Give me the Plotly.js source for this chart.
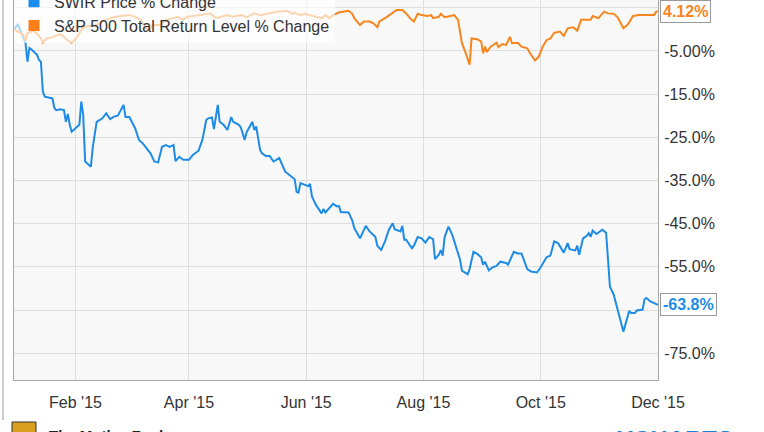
<!DOCTYPE html>
<html><head><meta charset="utf-8">
<script src="https://cdn.plot.ly/plotly-3.0.1.min.js"></script>
<style>html,body{margin:0;padding:0;background:#fff;}#chart{width:764px;height:432px;}</style>
</head><body><div id="chart"></div>
<script>
const swirName = 'SWIR Price % Change';
const spxName = 'S&P 500 Total Return Level % Change';

const swirDates = ['2014-12-31','2015-01-02','2015-01-06','2015-01-07','2015-01-08','2015-01-09','2015-01-12','2015-01-13','2015-01-14','2015-01-15','2015-01-16','2015-01-20','2015-01-21','2015-01-22','2015-01-24','2015-01-26','2015-01-27','2015-01-28','2015-01-29','2015-01-30',
'2015-02-02','2015-02-03','2015-02-04','2015-02-05','2015-02-06','2015-02-09','2015-02-10','2015-02-12','2015-02-15','2015-02-17','2015-02-19','2015-02-21','2015-02-23','2015-02-26','2015-02-27',
'2015-03-01','2015-03-04','2015-03-06','2015-03-08','2015-03-10','2015-03-12','2015-03-14','2015-03-16','2015-03-18','2015-03-20','2015-03-22','2015-03-24','2015-03-25','2015-03-27','2015-03-29',
'2015-04-01','2015-04-03','2015-04-06','2015-04-08','2015-04-10','2015-04-11','2015-04-13','2015-04-14','2015-04-16','2015-04-17','2015-04-19','2015-04-21','2015-04-23','2015-04-24','2015-04-27','2015-04-28','2015-04-30',
'2015-05-01','2015-05-04','2015-05-05','2015-05-06','2015-05-08','2015-05-09','2015-05-11','2015-05-13','2015-05-15','2015-05-17','2015-05-18','2015-05-21','2015-05-24','2015-05-26','2015-05-27','2015-05-28','2015-05-29','2015-05-31',
'2015-06-02','2015-06-03','2015-06-04','2015-06-06','2015-06-09','2015-06-10','2015-06-11','2015-06-15','2015-06-17','2015-06-18','2015-06-19','2015-06-23','2015-06-25','2015-06-26','2015-06-29',
'2015-07-02','2015-07-04','2015-07-07','2015-07-08','2015-07-10','2015-07-12','2015-07-14','2015-07-16','2015-07-17','2015-07-20','2015-07-21','2015-07-22','2015-07-23','2015-07-26','2015-07-27','2015-07-28','2015-07-29','2015-07-31',
'2015-08-02','2015-08-04','2015-08-06','2015-08-07','2015-08-09','2015-08-10','2015-08-11','2015-08-12','2015-08-14','2015-08-16','2015-08-18','2015-08-20','2015-08-21','2015-08-24','2015-08-25','2015-08-27','2015-08-29','2015-08-31',
'2015-09-01','2015-09-02','2015-09-04','2015-09-06','2015-09-08','2015-09-10','2015-09-13','2015-09-14','2015-09-17','2015-09-19','2015-09-21','2015-09-24','2015-09-26','2015-09-29',
'2015-10-01','2015-10-04','2015-10-06','2015-10-08','2015-10-10','2015-10-13','2015-10-15','2015-10-16','2015-10-19','2015-10-20','2015-10-21','2015-10-23','2015-10-25','2015-10-26','2015-10-27','2015-10-28','2015-10-30',
'2015-11-02','2015-11-04','2015-11-06','2015-11-08','2015-11-10','2015-11-13','2015-11-16','2015-11-17','2015-11-19','2015-11-20','2015-11-23','2015-11-24','2015-11-25','2015-11-27','2015-11-29','2015-12-01'];
const swirPct = [0,1.2,-3.2,-7.5,-4.3,-4.6,-5.9,-7.1,-7.5,-14.4,-15.6,-16,-18.2,-18.7,-18.5,-18.7,-21.4,-19.6,-22.1,-23.7,
-22.5,-22.1,-16.7,-19.8,-30.6,-31.8,-27.2,-21.4,-20.6,-19.4,-20.8,-20.2,-20,-17.5,-20.3,
-20.3,-22.9,-25.6,-26.4,-27.5,-28.7,-30.6,-30.8,-27.2,-26.8,-27.2,-26.8,-30.5,-29.5,-30.2,
-30.2,-29.1,-28.1,-25.6,-21,-20.6,-20.4,-23.1,-17.5,-21.4,-22.1,-23.3,-20.3,-21.4,-22.1,-22.7,-25.6,
-23.8,-21.4,-23.3,-22.5,-27.9,-28.7,-29.3,-29.3,-30.6,-30,-29.8,-32.9,-34.1,-34.7,-37.6,-37.8,-35.6,-36,
-36.3,-35.8,-38.7,-40.6,-42.6,-41.6,-42.4,-40.4,-41,-40.9,-42.3,-42.4,-44.3,-46,-48.4,
-45.5,-46.8,-48.1,-50.1,-51.1,-49.1,-46.4,-44.9,-46.3,-46.8,-45.5,-48.7,-48.7,-50.7,-50.1,-49.1,-48.1,-48.4,
-49.4,-48.1,-48.6,-53.2,-52.2,-51.1,-52.4,-48.1,-45.7,-47.6,-50.4,-53.3,-55.9,-56.7,-55.5,-51.5,-52,-52.8,
-54.5,-53.8,-55.8,-55.1,-54.8,-53.8,-54.1,-54.5,-51.5,-51.9,-51.9,-55.5,-56.1,-56.3,
-55.1,-52.8,-52.4,-49.1,-49.5,-51.7,-49.5,-50.9,-51.2,-50.1,-52.2,-48.4,-47.8,-47.2,-48,-46.6,-47.4,
-46.4,-47.1,-59.6,-61.5,-64.9,-70,-65.2,-65.7,-65.7,-65.1,-64.9,-62.5,-62.2,-63,-63.4,-63.8];

const spxDates = ['2014-12-31','2015-01-03','2015-01-05','2015-01-06','2015-01-07','2015-01-10','2015-01-12','2015-01-14','2015-01-15','2015-01-17','2015-01-20','2015-01-24','2015-01-26','2015-01-28','2015-01-30',
'2015-02-01','2015-02-03','2015-02-05','2015-02-08','2015-02-12','2015-02-15','2015-02-19','2015-02-22','2015-02-26',
'2015-03-01','2015-03-04','2015-03-07','2015-03-08','2015-03-10','2015-03-12','2015-03-13','2015-03-17','2015-03-20','2015-03-24','2015-03-26','2015-03-29','2015-03-31',
'2015-04-07','2015-04-12','2015-04-15','2015-04-21','2015-04-24','2015-04-28',
'2015-05-01','2015-05-05','2015-05-08','2015-05-11','2015-05-17','2015-05-22','2015-05-25','2015-05-26','2015-05-29','2015-05-31',
'2015-06-03','2015-06-07','2015-06-09','2015-06-11','2015-06-13','2015-06-15','2015-06-18','2015-06-20','2015-06-23','2015-06-25','2015-06-26','2015-06-29',
'2015-07-01','2015-07-04','2015-07-06','2015-07-08','2015-07-09','2015-07-13','2015-07-15','2015-07-18','2015-07-21','2015-07-23','2015-07-25','2015-07-27','2015-07-29','2015-07-31',
'2015-08-03','2015-08-05','2015-08-06','2015-08-09','2015-08-10','2015-08-12','2015-08-15','2015-08-17','2015-08-19','2015-08-21','2015-08-23','2015-08-25','2015-08-26','2015-08-29','2015-08-31',
'2015-09-01','2015-09-02','2015-09-03','2015-09-05','2015-09-08','2015-09-09','2015-09-11','2015-09-13','2015-09-15','2015-09-16','2015-09-19','2015-09-21','2015-09-24','2015-09-25','2015-09-28','2015-09-30',
'2015-10-02','2015-10-04','2015-10-06','2015-10-08','2015-10-11','2015-10-13','2015-10-15','2015-10-18','2015-10-20','2015-10-22','2015-10-25','2015-10-27','2015-10-28','2015-10-31',
'2015-11-03','2015-11-05','2015-11-08','2015-11-10','2015-11-13','2015-11-15','2015-11-16','2015-11-18','2015-11-21','2015-11-25','2015-11-29','2015-11-30','2015-12-01'];
const spxPct = [0,-0.9,-1.3,-2.5,-0.9,-0.3,-1.0,-2.1,-3.1,-2.1,-1.8,-1.1,-1.7,-2.6,-3.1,
-2.3,-0.9,0.5,0.8,1.0,1.8,2.6,2.9,3.1,
3.3,2.9,2.2,1.4,-0.1,0.3,1.0,1.0,2.2,2.6,2.9,2.2,2.9,
3.3,3.7,2.6,3.3,2.9,3.3,
2.8,3.7,3.3,3.6,4.1,4.3,3.6,3.9,3.3,3.6,
3.3,2.9,2.6,3.3,2.6,3.3,3.9,4.1,4.3,3.6,2.6,1.0,
1.8,1.8,1.4,0.5,1.8,2.9,3.6,4.5,4.5,3.7,2.6,1.8,3.6,3.3,
3.1,3.3,2.6,2.9,3.6,2.8,3.1,3.3,2.2,-3.2,-5.5,-8.2,-2.1,-2.3,-2.8,
-5.5,-4.0,-5.2,-4.0,-3.1,-4.1,-3.4,-3.6,-1.7,-3.2,-3.1,-4.0,-4.4,-5.2,-7.2,-6.3,
-4.0,-2.5,-2.1,-0.8,-0.5,-1.5,0.25,0.5,-0.3,2.2,2.3,2.2,3.1,2.6,
4.1,3.7,3.6,2.8,0.25,1.0,1.6,3.1,3.3,3.3,3.3,4.1,4.12];

const xTickVals = ['2015-02-01','2015-04-01','2015-06-01','2015-08-01','2015-10-01','2015-12-01'];
const xTickText = ["Feb '15","Apr '15","Jun '15","Aug '15","Oct '15","Dec '15"];
// 5% and -65% labels sit behind the end-value boxes in the reference, so only their gridlines show
const yTickVals = [5,-5,-15,-25,-35,-45,-55,-65,-75];
const yTickText = ['','-5.00%','-15.0%','-25.0%','-35.0%','-45.0%','-55.0%','','-75.0%'];

const blue = '#1e8ce6';
const orange = '#f7861f';
const FONT = 'Liberation Sans, Arial, sans-serif';

const traces = [
  {x: swirDates, y: swirPct, type:'scatter', mode:'lines', name: swirName, line:{color:blue, width:2}, showlegend:false, hoverinfo:'skip'},
  {x: spxDates, y: spxPct, type:'scatter', mode:'lines', name: spxName, line:{color:orange, width:2}, showlegend:false, hoverinfo:'skip'},
  {x: [null], y: [null], type:'scatter', mode:'markers', name: swirName, marker:{symbol:'square', size:11, color:'#1a8cf0'}, showlegend:true},
  {x: [null], y: [null], type:'scatter', mode:'markers', name: spxName, marker:{symbol:'square', size:11, color:'#ff7f1a'}, showlegend:true}
];

const lastSpx = spxPct[spxPct.length-1];
const lastSwir = swirPct[swirPct.length-1];

const layout = {
  width: 764, height: 432,
  margin: {l:14, r:106, t:0, b:52, autoexpand:false},
  paper_bgcolor: '#ffffff',
  plot_bgcolor: '#f8f8f8',
  font: {family: FONT, size: 16, color: '#333'},
  showlegend: true,
  legend: {x: 0, y: 1.04, xanchor:'left', yanchor:'top', bgcolor:'rgba(255,255,255,0.65)', borderwidth:0,
           font:{family: FONT, size:16, color:'#333'}, tracegroupgap:0, itemclick:false},
  xaxis: {type:'date', range:['2014-12-31','2015-12-01'], tickmode:'array', tickvals:xTickVals, ticktext:xTickText,
          showgrid:true, gridcolor:'#dddddd', gridwidth:1, showline:true, linecolor:'#a8a8a8', linewidth:1, mirror:true,
          ticks:'outside', ticklen:8, tickcolor:'rgba(0,0,0,0)', tickfont:{family:FONT, size:16, color:'#333'}, zeroline:false, fixedrange:true},
  yaxis: {side:'right', range:[-81.2, 6.8], tickmode:'array', tickvals:yTickVals, ticktext:yTickText,
          showgrid:true, gridcolor:'#dddddd', gridwidth:1, showline:true, linecolor:'#a8a8a8', linewidth:1, mirror:true,
          ticks:'outside', ticklen:2, tickcolor:'rgba(0,0,0,0)', tickfont:{family:FONT, size:16, color:'#333'}, zeroline:false, fixedrange:true},
  annotations: [
    {x: spxDates[spxDates.length-1], y: lastSpx, xref:'x', yref:'y', xanchor:'left', yanchor:'middle', xshift:2, showarrow:false,
     text:'<b>' + lastSpx.toFixed(2) + '%</b>', font:{family:FONT, size:16, color:orange}, bgcolor:'#ffffff', bordercolor:'#999', borderwidth:1, borderpad:2},
    {x: swirDates[swirDates.length-1], y: lastSwir, xref:'x', yref:'y', xanchor:'left', yanchor:'middle', xshift:2, showarrow:false,
     text:'<b>' + lastSwir.toFixed(1) + '%</b>', font:{family:FONT, size:16, color:blue}, bgcolor:'#ffffff', bordercolor:'#999', borderwidth:1, borderpad:2},
    {x: (47-14)/644, y: (380-425)/380, xref:'paper', yref:'paper', xanchor:'left', yanchor:'top', showarrow:false,
     text:'<b>The Motley Fool</b>', font:{family:FONT, size:15, color:'#222'}},
    {x: (615-14)/644, y: (380-424)/380, xref:'paper', yref:'paper', xanchor:'left', yanchor:'top', showarrow:false,
     text:'<b>YCHARTS</b>', font:{family:FONT, size:24, color:'#1a7fd6'}}
  ],
  shapes: [
    {type:'line', xref:'paper', yref:'paper', x0:(3-14)/644, x1:(3-14)/644, y0:(380-420)/380, y1:1.0, line:{color:'#999', width:1}},
    {type:'rect', xref:'paper', yref:'paper', x0:(12-14)/644, x1:(36-14)/644, y0:(380-422)/380, y1:(380-440)/380, fillcolor:'#d9a020', line:{color:'#333', width:1}}
  ]
};

Plotly.newPlot('chart', traces, layout, {displayModeBar:false, staticPlot:true});
</script>
</body></html>
